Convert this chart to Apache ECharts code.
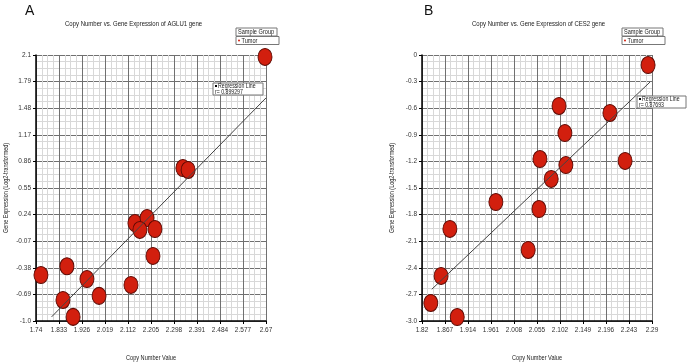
<!DOCTYPE html>
<html>
<head>
<meta charset="utf-8">
<script src="https://cdn.jsdelivr.net/npm/echarts@6/dist/echarts.min.js"></script>
<style>
  html, body { margin: 0; padding: 0; background: #fff; }
  #chart { width: 689px; height: 364px; }
</style>
</head>
<body>
<div id="chart"></div>
<script>
// panel A: AGLU1
const agluPoints = [
  [2.666, 2.077], [2.334, 0.783], [2.355, 0.760], [2.140, 0.142],
  [2.189, 0.200], [2.160, 0.061], [2.221, 0.072], [2.213, -0.242],
  [1.760, -0.464], [1.865, -0.362], [1.946, -0.511], [2.124, -0.580],
  [1.995, -0.707], [1.849, -0.755], [1.890, -0.952]
];
const agluRegression = [[1.803, -0.952], [2.67, 1.60]];
const agluX = { min: 1.74, max: 2.67, interval: 0.093 };
const agluY = { min: -1.0, max: 2.1, interval: 0.31 };
const agluTitle = "Copy Number vs. Gene Expression of AGLU1 gene";
const agluR = "r= 0.899297";

// panel B: CES2
const ces2Points = [
  [2.282, -0.113], [2.100, -0.575], [2.204, -0.654], [2.112, -0.880],
  [2.061, -1.173], [2.235, -1.195], [2.114, -1.241], [2.084, -1.398],
  [1.971, -1.658], [2.059, -1.737], [1.877, -1.962], [2.037, -2.199],
  [1.859, -2.492], [1.838, -2.797], [1.892, -2.955]
];
const ces2Regression = [[1.840, -2.642], [2.286, -0.305]];
const ces2X = { min: 1.82, max: 2.29, interval: 0.047 };
const ces2Y = { min: -3.0, max: 0, interval: 0.3 };
const ces2Title = "Copy Number vs. Gene Expression of CES2 gene";
const ces2R = "r= 0.87693";

const xName = "Copy Number Value";
const yName = "Gene Expression (Log2-transformed)";

const FONT = "'Liberation Sans', Arial, sans-serif";
const SQUEEZE = 0.8; // the original picture is squashed sideways
const bubble = "path://M0,50A50,50,0,1,1,100,50A50,50,0,1,1,0,50Z";

function xAxis(idx, r) {
  return {
    type: "value", gridIndex: idx, min: r.min, max: r.max, interval: r.interval,
    axisLine: { show: true, onZero: false, lineStyle: { color: "#000", width: 1.5 } },
    axisTick: { show: true, length: 3, lineStyle: { color: "#000" } },
    axisLabel: { fontFamily: FONT, fontSize: 6.5, color: "#333", margin: 6, formatter: (v) => String(+v.toFixed(3)) },
    splitLine: { show: true, lineStyle: { color: "#707070", width: 1, type: "solid" } },
    minorTick: { show: false, splitNumber: 4 },
    minorSplitLine: { show: true, lineStyle: { color: "#d8d8d8", width: 1, type: "solid" } }
  };
}

function yAxis(idx, r) {
  return {
    type: "value", gridIndex: idx, min: r.min, max: r.max, interval: r.interval,
    axisLine: { show: true, onZero: false, lineStyle: { color: "#000", width: 1.5 } },
    axisTick: { show: true, length: 3, lineStyle: { color: "#000" } },
    axisLabel: {
      fontFamily: FONT, fontSize: 6.5, color: "#333", margin: 5,
      formatter: (v) => (Math.abs(v - r.min) < 1e-9 ? v.toFixed(1) : String(+v.toFixed(3)))
    },
    splitLine: { show: true, lineStyle: { color: "#707070", width: 1, type: "solid" } },
    minorTick: { show: false, splitNumber: 4 },
    minorSplitLine: { show: true, lineStyle: { color: "#d8d8d8", width: 1, type: "solid" } }
  };
}

function scatter(idx, data) {
  return {
    type: "scatter", xAxisIndex: idx, yAxisIndex: idx, data: data,
    symbol: bubble, symbolSize: [14, 17],
    itemStyle: { color: "#d21f0e", borderColor: "#5c0a04", borderWidth: 1, opacity: 1 },
    z: 3
  };
}

function regLine(idx, data) {
  return {
    type: "line", xAxisIndex: idx, yAxisIndex: idx, data: data,
    symbol: "none", lineStyle: { color: "#444", width: 1, type: "solid" }, z: 4, silent: true
  };
}

function txt(x, y, text, size, extra) {
  return Object.assign({
    type: "text", x: x, y: y, scaleX: SQUEEZE, z: 11,
    style: { text: text, font: size + "px " + FONT, fill: "#222", textVerticalAlign: "middle" }
  }, extra || {});
}

function labels(plotLeft, titleLeft, title) {
  const cx = plotLeft + 115;
  return [
    txt(titleLeft, 24, title, 7.5),
    Object.assign(txt(cx, 358, xName, 7), { style: { text: xName, font: "7px " + FONT, fill: "#222", textAlign: "center", textVerticalAlign: "middle" } }),
    {
      type: "text", x: plotLeft - 30, y: 188, rotation: Math.PI / 2, scaleX: 0.78, z: 11,
      style: { text: yName, font: "7px " + FONT, fill: "#222", textAlign: "center", textVerticalAlign: "middle" }
    }
  ];
}

function legendBox(x) {
  return [
    { type: "rect", z: 10, shape: { x: x, y: 28, width: 41, height: 8 }, style: { fill: "#fff", stroke: "#777", lineWidth: 1 } },
    txt(x + 2, 32, "Sample Group", 7),
    { type: "rect", z: 10, shape: { x: x, y: 36.5, width: 43, height: 8 }, style: { fill: "#fff", stroke: "#777", lineWidth: 1 } },
    { type: "circle", z: 11, shape: { cx: x + 3, cy: 40.5, r: 1 }, style: { fill: "#d21f0e" } },
    txt(x + 5.5, 40.8, "Tumor", 7)
  ];
}

function regBox(x, y, w, r) {
  return [
    { type: "rect", shape: { x: x, y: y, width: w, height: 12 }, style: { fill: "#fff", stroke: "#777", lineWidth: 1 }, z: 10 },
    { type: "rect", shape: { x: x + 2, y: y + 2, width: 2, height: 2 }, style: { fill: "#000" }, z: 11 },
    txt(x + 5, y + 3.3, "Regression Line", 6.5),
    txt(x + 2, y + 8.8, r, 6.5)
  ];
}

const chart = echarts.init(document.getElementById("chart"), null, { renderer: "canvas" });
chart.setOption({
  backgroundColor: "#fff",
  animation: false,
  grid: [
    { left: 36, top: 55, width: 230, height: 266 },
    { left: 422, top: 55, width: 230, height: 266 }
  ],
  xAxis: [xAxis(0, agluX), xAxis(1, ces2X)],
  yAxis: [yAxis(0, agluY), yAxis(1, ces2Y)],
  series: [
    scatter(0, agluPoints), regLine(0, agluRegression),
    scatter(1, ces2Points), regLine(1, ces2Regression)
  ],
  graphic: [
    { type: "text", x: 25, y: 4, style: { text: "A", font: "14px " + FONT, fill: "#111" } },
    { type: "text", x: 424, y: 4, style: { text: "B", font: "14px " + FONT, fill: "#111" } },
    ...labels(36, 65, agluTitle),
    ...labels(422, 472, ces2Title),
    ...legendBox(236),
    ...legendBox(622),
    ...regBox(213, 83, 50, agluR),
    ...regBox(637, 96, 49, ces2R)
  ]
});
</script>
</body>
</html>
